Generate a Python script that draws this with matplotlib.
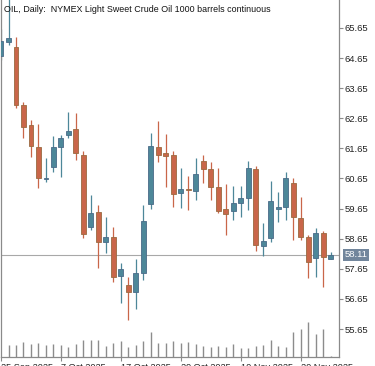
import matplotlib
matplotlib.use("Agg")
import matplotlib.pyplot as plt
import pandas as pd

# Daily OHLC, first candle (25 Sep 2025) is cut by the left edge
dates = pd.bdate_range("2025-09-25", periods=45)
opens = [64.72, 65.17, 65.01, 63.09, 62.43, 61.71, 60.63, 61.04, 61.71, 62.10, 62.28,
         61.43, 59.05, 59.53, 58.55, 58.72, 57.42, 57.11, 56.89, 57.50, 59.80, 61.71,
         61.51, 61.43, 60.16, 60.31, 60.25, 61.23, 60.97, 60.36, 59.63, 59.58, 59.83,
         59.99, 60.96, 58.41, 58.66, 59.65, 59.69, 60.49, 59.33, 58.70, 58.00, 58.85, 57.99]
highs = [65.60, 67.20, 65.36, 63.20, 62.59, 62.46, 61.33, 62.06, 62.08, 62.87, 62.82,
         61.55, 60.10, 59.77, 59.38, 59.05, 57.84, 57.39, 57.99, 59.77, 62.17, 62.57,
         62.13, 61.55, 60.99, 60.73, 61.32, 61.43, 61.21, 60.99, 60.46, 60.40, 60.40,
         61.23, 61.05, 59.16, 60.58, 60.21, 60.88, 60.66, 60.05, 58.77, 59.00, 58.92, 58.22]
lows = [64.60, 65.10, 62.99, 61.98, 61.37, 60.32, 60.54, 60.88, 60.71, 61.99, 61.26,
        58.66, 58.95, 57.67, 58.17, 57.22, 56.52, 55.95, 56.30, 57.28, 59.63, 61.21,
        60.36, 59.71, 59.66, 59.60, 59.94, 60.49, 59.94, 59.49, 58.77, 59.27, 59.36,
        59.60, 58.25, 58.08, 58.55, 59.22, 59.27, 58.61, 58.61, 57.33, 57.39, 57.06, 57.97]
closes = [65.22, 65.31, 63.09, 62.37, 61.73, 60.66, 60.68, 61.71, 61.99, 62.24, 61.49,
          58.81, 59.49, 58.55, 58.70, 57.37, 57.63, 56.87, 57.52, 59.24, 61.73, 61.43,
          61.40, 60.12, 60.30, 60.27, 60.80, 60.97, 60.38, 59.58, 59.47, 59.83, 60.01,
          60.99, 58.44, 58.57, 59.91, 59.67, 60.66, 59.36, 58.70, 57.89, 58.85, 58.05, 58.11]
volumes = [0, 117, 123, 150, 133, 143, 117, 133, 117, 100, 133, 167, 167, 167, 107, 143,
           157, 100, 117, 157, 250, 143, 143, 157, 140, 150, 133, 110, 100, 110, 100,
           127, 93, 93, 110, 117, 173, 107, 100, 250, 277, 350, 233, 277, 10]

price_ticks = [55.65, 56.65, 57.65, 58.65, 59.65, 60.65, 61.65, 62.65, 63.65, 64.65, 65.65]
label_idx = [0, 8, 16, 24, 32, 40]
last_price = 58.11

UP = "#4d8799"
DOWN = "#c96649"
UP_EDGE = "#4a6a88"
DOWN_EDGE = "#9a6a40"
AXIS = "#8a8a8a"

plt.rcParams["font.family"] = ["Liberation Sans", "DejaVu Sans"]

fig = plt.figure(figsize=(3.75, 3.66), dpi=100)
ax = fig.add_axes([0.0027, 9 / 366, 338 / 375, 357 / 366])
axv = fig.add_axes(ax.get_position(), sharex=ax, frameon=False)
axv.set_zorder(0)
ax.set_zorder(1)
ax.patch.set_visible(False)

x = list(range(len(dates)))
for i in x:
    o, h, l, c = opens[i], highs[i], lows[i], closes[i]
    up = c >= o
    col = UP if up else DOWN
    ax.vlines(i, l, h, color=col, lw=0.9, zorder=2)
    ax.bar(i, abs(c - o) if abs(c - o) > 0.04 else 0.04, bottom=min(o, c), width=0.66,
           color=col, edgecolor=UP_EDGE if up else DOWN_EDGE, linewidth=0.6, zorder=3)

axv.vlines(x, 0, volumes, color="#8c8c8c", lw=1.0)
axv.set_ylim(0, 3570)
axv.axis("off")

ax.axhline(last_price, color="#a8a8a8", lw=0.8, zorder=1)

ax.set_xlim(0.16, 45.1)
ax.set_ylim(54.72, 66.58)

ax.yaxis.tick_right()
ax.set_yticks(price_ticks)
ax.set_yticklabels([f"{t:.2f}" for t in price_ticks])
ax.tick_params(axis="y", direction="out", length=3, width=0.8, color=AXIS,
               labelsize=6.8, pad=1, labelcolor="#222222")

ax.set_xticks(label_idx)
ax.set_xticklabels([d.strftime("%-d %b %Y") for d in dates[label_idx]], ha="left")
ax.tick_params(axis="x", direction="out", length=3, width=0.8, color=AXIS,
               labelsize=6.6, pad=1, labelcolor="#222222")

for side in ["left", "right", "bottom"]:
    ax.spines[side].set_color(AXIS)
    ax.spines[side].set_linewidth(0.9)
ax.spines["top"].set_visible(False)

ax.text(0.008, 0.985, "OIL, Daily:  NYMEX Light Sweet Crude Oil 1000 barrels continuous",
        transform=ax.transAxes, fontsize=6.4, va="top", ha="left", color="#111111")

ax.annotate(f"{last_price:.2f}", xy=(1.0, last_price), xycoords=("axes fraction", "data"),
            xytext=(4, 0), textcoords="offset points", fontsize=6.8, color="white",
            va="center", ha="left",
            bbox=dict(boxstyle="square,pad=0.15", fc="#72869c", ec="none"))

fig.savefig("out.png", dpi=100)
